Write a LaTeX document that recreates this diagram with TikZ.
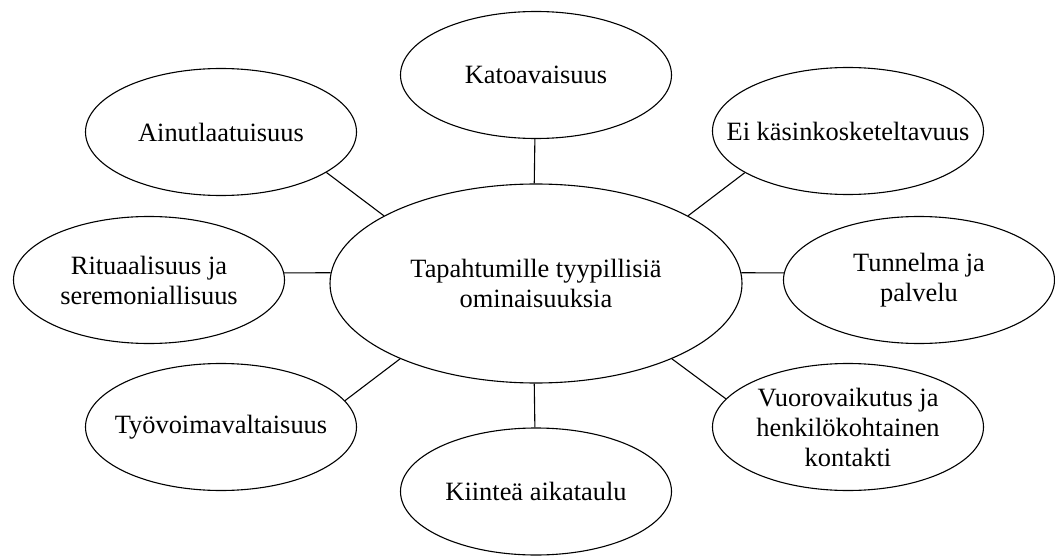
\documentclass[tikz,border=0pt]{standalone}
\usepackage{fontspec}
\setmainfont{Liberation Serif}
\usetikzlibrary{shapes.geometric}

\begin{document}
\begin{tikzpicture}[x=0.5pt,y=-0.5pt,line width=0.55pt,
		piirre/.style={ellipse,draw,minimum width=135.5pt,minimum height=63.5pt,inner xsep=-40pt,inner ysep=-14pt,align=center,font=\fontsize{13.2}{15}\selectfont},
		keski/.style={piirre,minimum width=206pt,minimum height=99.5pt}]
			\useasboundingbox (0,0) rectangle (1055,556);
			\node[keski] (T) at (536,283.5) {Tapahtumille tyypillisiä\\ominaisuuksia};
			\node[piirre] (K) at (536,75) {Katoavaisuus};
			\node[piirre] (A) at (221,132) {Ainutlaatuisuus};
			\node[piirre] (E) at (848,131) {Ei käsinkosketeltavuus};
			\node[piirre] (R) at (149,280) {Rituaalisuus ja\\seremoniallisuus};
			\node[piirre] (P) at (919,280) {Tunnelma ja\\palvelu};
			\node[piirre] (W) at (221,427) {Työvoimavaltaisuus};
			\node[piirre] (V) at (848,427) {Vuorovaikutus ja\\henkilökohtainen\\kontakti};
			\node[piirre] (F) at (536,491.5) {Kiinteä aikataulu};
			\foreach \a/\b in {K.-91/T.91, A.-21/T.156, E.-158/T.24, R.3/T.177, P.177/T.3, W.12/T.-151, V.167/T.-29, F.91/T.-91}
				\draw (\a) -- (\b);
		\end{tikzpicture}
\end{document}
